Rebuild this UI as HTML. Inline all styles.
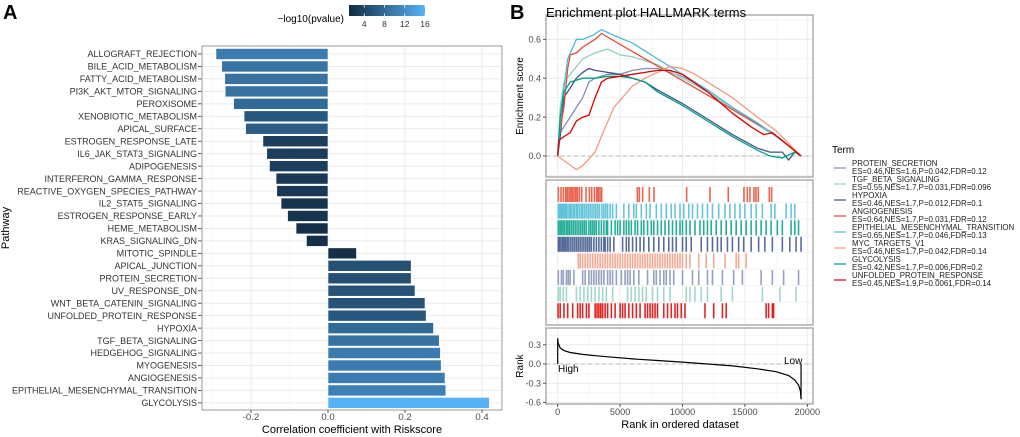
<!DOCTYPE html>
<html><head><meta charset="utf-8"><style>
body{margin:0;background:#fff;}
svg{display:block;font-family:"Liberation Sans",Arial,sans-serif;}
</style></head><body>
<svg id="s" width="1020" height="437" viewBox="0 0 1020 437">
<defs><linearGradient id="cg" x1="0" x2="1" y1="0" y2="0"><stop offset="0" stop-color="#132B43"/><stop offset="1" stop-color="#56B1F7"/></linearGradient></defs>
<text x="3" y="19" font-size="20" font-weight="bold">A</text>
<text x="510" y="19" font-size="20" font-weight="bold">B</text>
<g id="A"></g><g id="B"></g>
</svg>
<script>
const cats=["ALLOGRAFT_REJECTION","BILE_ACID_METABOLISM","FATTY_ACID_METABOLISM","PI3K_AKT_MTOR_SIGNALING","PEROXISOME","XENOBIOTIC_METABOLISM","APICAL_SURFACE","ESTROGEN_RESPONSE_LATE","IL6_JAK_STAT3_SIGNALING","ADIPOGENESIS","INTERFERON_GAMMA_RESPONSE","REACTIVE_OXYGEN_SPECIES_PATHWAY","IL2_STAT5_SIGNALING","ESTROGEN_RESPONSE_EARLY","HEME_METABOLISM","KRAS_SIGNALING_DN","MITOTIC_SPINDLE","APICAL_JUNCTION","PROTEIN_SECRETION","UV_RESPONSE_DN","WNT_BETA_CATENIN_SIGNALING","UNFOLDED_PROTEIN_RESPONSE","HYPOXIA","TGF_BETA_SIGNALING","HEDGEHOG_SIGNALING","MYOGENESIS","ANGIOGENESIS","EPITHELIAL_MESENCHYMAL_TRANSITION","GLYCOLYSIS"];
const corr=[-0.291,-0.276,-0.268,-0.267,-0.245,-0.218,-0.214,-0.169,-0.159,-0.152,-0.135,-0.133,-0.122,-0.105,-0.083,-0.056,0.074,0.216,0.216,0.226,0.252,0.255,0.274,0.289,0.292,0.294,0.304,0.306,0.419];
const logp=[10,9,9,9,8,6,6.5,3,3,3,2.5,2.5,2,2,1.5,1.5,1.5,5,5,5.5,5.5,6,8,9,10,10,10,10.5,16];
const xTicksA=[-0.2,0,0.2,0.4];
const cbTicks=[4,8,12,16];

const terms=["PROTEIN_SECRETION","TGF_BETA_SIGNALING","HYPOXIA","ANGIOGENESIS","EPITHELIAL_MESENCHYMAL_TRANSITION","MYC_TARGETS_V1","GLYCOLYSIS","UNFOLDED_PROTEIN_RESPONSE"];
const stats=["ES=0.46,NES=1.6,P=0.042,FDR=0.12","ES=0.55,NES=1.7,P=0.031,FDR=0.096","ES=0.46,NES=1.7,P=0.012,FDR=0.1","ES=0.64,NES=1.7,P=0.031,FDR=0.12","ES=0.65,NES=1.7,P=0.046,FDR=0.13","ES=0.46,NES=1.7,P=0.042,FDR=0.14","ES=0.42,NES=1.7,P=0.006,FDR=0.2","ES=0.45,NES=1.9,P=0.0061,FDR=0.14"];
const colors=["#8491B4","#91D1C2","#3C5488","#E64B35","#4DBBD5","#F39B7F","#00A087","#DC0000"];
const esProtein=[[0,0],[200,0.12],[500,0.15],[1000,0.2],[1500,0.25],[2000,0.3],[2500,0.38],[3000,0.4],[4000,0.42],[5000,0.42],[6000,0.44],[7000,0.45],[8000,0.45],[10000,0.41],[12000,0.34],[14000,0.25],[16000,0.17],[18000,0.08],[19500,0]];
const esTgf=[[0,0],[200,0.25],[500,0.38],[1000,0.42],[2000,0.5],[3000,0.53],[4000,0.55],[5000,0.52],[6000,0.51],[8000,0.47],[10000,0.4],[12000,0.33],[14000,0.24],[16000,0.16],[18000,0.08],[19500,0]];
const esHypoxia=[[0,0],[200,0.1],[500,0.3],[1000,0.35],[1500,0.4],[2000,0.43],[2500,0.45],[3000,0.44],[4000,0.43],[5000,0.42],[6000,0.4],[7000,0.38],[8000,0.34],[10000,0.27],[12000,0.19],[14000,0.11],[16000,0.04],[17000,0.02],[18000,0.02],[18500,-0.02],[19000,0.02],[19500,0]];
const esAngio=[[0,0],[100,0.1],[500,0.25],[800,0.45],[1000,0.52],[1500,0.53],[2000,0.56],[2500,0.58],[3000,0.6],[3500,0.63],[17200,0.12],[19500,0]];
const esEmt=[[0,0],[300,0.25],[800,0.5],[1500,0.6],[2000,0.6],[2800,0.62],[3500,0.65],[4500,0.62],[6000,0.58],[8000,0.5],[10000,0.42],[12000,0.34],[14000,0.25],[16000,0.17],[18000,0.08],[19500,0]];
const esMyc=[[0,0],[1500,-0.07],[2000,-0.05],[3000,0.02],[3500,0.1],[4500,0.25],[6000,0.36],[7000,0.4],[8000,0.43],[9000,0.46],[10000,0.45],[11000,0.42],[12000,0.38],[14000,0.3],[16000,0.2],[17500,0.13],[19500,0]];
const esGly=[[0,0],[200,0.2],[500,0.33],[1000,0.38],[2000,0.4],[3000,0.4],[4000,0.41],[5000,0.41],[6000,0.4],[7000,0.38],[8000,0.33],[10000,0.26],[12000,0.18],[14000,0.1],[16000,0.03],[17000,0],[18000,-0.01],[19000,0.02],[19500,0]];
const esUpr=[[0,0],[100,0.08],[500,0.1],[1000,0.12],[1500,0.18],[2000,0.2],[2500,0.21],[3000,0.3],[3500,0.38],[4000,0.4],[5000,0.41],[6000,0.42],[7000,0.43],[8000,0.44],[9000,0.44],[10000,0.42],[12000,0.33],[14000,0.22],[15500,0.15],[16500,0.11],[17200,0.12],[19500,0]];
const esCurves=[esProtein,esTgf,esHypoxia,esAngio,esEmt,esMyc,esGly,esUpr];
const hitsAngio=[53,267,454,641,774,908,1041,1175,1308,1442,1575,1735,1922,2269,2536,2723,2937,3124,3257,3391,3524,6381,6541,6808,7342,7716,10333,12202,13670,14925,15192,15406,15726,15886,16073,16954,17141];
const hitsEmt=[50,150,250,350,450,550,650,750,900,1000,1100,1250,1350,1500,1600,1750,1900,2000,2150,2300,2450,2600,2750,2900,3050,3200,3350,3550,3700,3850,4000,4200,4400,4700,5300,5700,6100,6300,6700,7100,7400,7900,8300,8700,9100,9400,9800,10100,10500,10800,11200,11600,12000,12400,12900,13400,13800,14200,14600,15000,15500,15900,16400,17100,17400,18300,18700,19000];
const hitsGly=[50,180,300,420,550,700,820,950,1100,1250,1400,1550,1700,1850,2000,2150,2300,2500,2650,2800,2950,3100,3300,3500,3700,3900,4000,4300,4600,4800,5000,5300,5500,5700,5900,6200,6400,6700,6900,7200,7500,7700,8000,8300,8600,8900,9200,9500,9800,10000,10300,10600,11000,11400,11700,12000,12300,12700,13100,13500,13900,14300,14700,15100,15500,15900,16300,16700,17100,17600,18000,18700,19000,19300];
const hitsHypoxia=[50,150,270,400,520,650,780,900,1050,1200,1350,1500,1650,1800,1950,2100,2250,2400,2550,2700,2900,3100,3300,3500,3700,3800,4000,4200,4500,5200,5500,5700,6000,6300,6600,6900,7300,7700,8100,8500,8900,9200,9500,10000,10300,10700,11500,12000,12400,12800,13100,13600,14000,14500,14900,15500,16100,16600,17200,18000,18600,19100,19500];
const hitsMyc=[1650,1800,2000,2200,2400,2600,2800,3000,3200,3400,3600,3800,4000,4200,4400,4600,4800,5000,5200,5400,5600,5800,6000,6200,6400,6600,6800,7000,7200,7400,7600,7800,8000,8200,8400,8600,8800,9000,9200,9400,9600,9800,10000,10300,10600,11300,11900,12500,13400,14300,14500,15100];
const hitsProtein=[50,300,450,700,850,1000,1300,2000,2200,2500,2700,2900,3100,3300,3500,3700,4000,4200,4400,4700,5100,5400,5600,5800,6100,6500,7200,7700,7900,8200,8500,8700,9000,9300,10000,10800,11300,12000,12400,13200,14100,14800,16300,17200,18100,19300];
const hitsTgf=[50,200,450,700,1500,1800,2100,2400,2700,3000,3300,3600,3900,4400,5600,5900,6200,6500,6800,7100,7600,8000,8500,9000,10300,10600,11000,11500,12000,13100,14000,16400,17800,19100];
const hitsUpr=[30,200,500,800,1200,1600,1800,2000,2300,2500,3000,3150,3300,3450,3600,3800,4000,4300,4600,5000,5200,5400,5700,6000,6300,6600,7000,7200,7400,7600,7800,8000,8500,8800,9100,9400,9600,9900,10200,11800,12500,13200,13500,16700,16900,17200,17300];
const rugRows=[hitsAngio,hitsEmt,hitsGly,hitsHypoxia,hitsMyc,hitsProtein,hitsTgf,hitsUpr];
const rugColors=["#E64B35","#4DBBD5","#00A087","#3C5488","#F39B7F","#8491B4","#91D1C2","#DC0000"];
const rankPts=[[0,0.4],[30,0.33],[200,0.25],[500,0.21],[1000,0.18],[2000,0.15],[3000,0.13],[4500,0.105],[6000,0.08],[8000,0.055],[10000,0.03],[12000,0.0],[14000,-0.03],[16000,-0.075],[17500,-0.12],[18500,-0.18],[19000,-0.25],[19300,-0.33],[19450,-0.42],[19500,-0.55]];
const xTicksB=[0,5000,10000,15000,20000];
const yTicksES=[0,0.2,0.4,0.6];
const yTicksRank=[0.3,0,-0.3,-0.6];

const NS="http://www.w3.org/2000/svg";
function mk(p,tag,a,txt){const e=document.createElementNS(NS,tag);for(const k in a)e.setAttribute(k,a[k]);if(txt!==undefined)e.textContent=txt;p.appendChild(e);return e;}
function lerp(a,b,t){return Math.round(a+(b-a)*t);}
function pcol(v){const t=Math.max(0,Math.min(1,(v-1)/15));return `rgb(${lerp(19,86,t)},${lerp(43,177,t)},${lerp(67,247,t)})`;}

// ---------- Panel A ----------
const A=document.getElementById('A');
const ax=v=>328+v*385;
const ay=i=>54+i*12.46;
const L=202,R=502,T=46,Bt=410;
mk(A,'rect',{x:L,y:T,width:R-L,height:Bt-T,fill:'#fff'});
for(let v=-0.3;v<=0.45;v+=0.1){mk(A,'line',{x1:ax(v),x2:ax(v),y1:T,y2:Bt,stroke:'#f2f2f2','stroke-width':0.6});}
xTicksA.forEach(v=>{mk(A,'line',{x1:ax(v),x2:ax(v),y1:T,y2:Bt,stroke:'#ebebeb','stroke-width':1});});
cats.forEach((c,i)=>{mk(A,'line',{x1:L,x2:R,y1:ay(i),y2:ay(i),stroke:'#ebebeb','stroke-width':1});});
cats.forEach((c,i)=>{
  const v=corr[i];
  const r=mk(A,'rect',{x:Math.min(ax(0),ax(v)),y:ay(i)-5.5,width:Math.abs(ax(v)-ax(0)),height:11,fill:pcol(logp[i]),stroke:'#fff','stroke-width':0.6});
  
  
  const t=mk(A,'text',{x:197,y:ay(i)+3.2,'font-size':9,fill:'#333','text-anchor':'end'},c);
  
  
  mk(A,'line',{x1:198,x2:202,y1:ay(i),y2:ay(i),stroke:'#333','stroke-width':0.8});
});
mk(A,'rect',{x:L,y:T,width:R-L,height:Bt-T,fill:'none',stroke:'#aaa','stroke-width':1.2});
xTicksA.forEach(v=>{
  mk(A,'line',{x1:ax(v),x2:ax(v),y1:Bt,y2:Bt+3,stroke:'#333','stroke-width':0.8});
  const t=mk(A,'text',{x:ax(v),y:420,'font-size':9.6,fill:'#4d4d4d','text-anchor':'middle'},v.toFixed(1));
  
  
});
let t1=mk(A,'text',{x:352,y:433,'font-size':11,fill:'#000','text-anchor':'middle'},'Correlation coefficient with Riskscore');

let t2=mk(A,'text',{x:9,y:228,'font-size':11,fill:'#000','text-anchor':'middle',transform:'rotate(-90 9 228)'},'Pathway');

const cbx=v=>349+(v-1)/15*76;
let cb=mk(A,'rect',{x:349,y:5,width:76,height:11,fill:'url(#cg)'});

cbTicks.forEach(v=>{
  mk(A,'line',{x1:cbx(v),x2:cbx(v),y1:5,y2:7.5,stroke:'#fff','stroke-width':0.8});
  mk(A,'line',{x1:cbx(v),x2:cbx(v),y1:13.5,y2:16,stroke:'#fff','stroke-width':0.8});
  const t=mk(A,'text',{x:cbx(v),y:27,'font-size':8.5,fill:'#333','text-anchor':'middle'},String(v));
  
});
let t3=mk(A,'text',{x:344,y:22,'font-size':10,fill:'#000','text-anchor':'end'},'\u2212log10(pvalue)');


// ---------- Panel B ----------
const B=document.getElementById('B');
const bx=r=>557.7+r*0.01248;
const PL=546,PR=813;
const esy=v=>156-v*194.5;
const rky=v=>364-v*64;
function panel(y1,y2,name){
  const r=mk(B,'rect',{x:PL,y:y1,width:PR-PL,height:y2-y1,fill:'#fff'});
  
  for(let v=0;v<=20000;v+=2500){mk(B,'line',{x1:bx(v),x2:bx(v),y1:y1,y2:y2,stroke:v%5000?'#f3f3f3':'#ebebeb','stroke-width':v%5000?0.6:1});}
}
function frame(y1,y2){mk(B,'rect',{x:PL,y:y1,width:PR-PL,height:y2-y1,fill:'none',stroke:'#999','stroke-width':1.2});}
panel(15,177,'enrichment-panel');
for(let v=-0.1;v<=0.7;v+=0.1){mk(B,'line',{x1:PL,x2:PR,y1:esy(v),y2:esy(v),stroke:'#f0f0f0','stroke-width':0.8});}
yTicksES.forEach(v=>mk(B,'line',{x1:PL,x2:PR,y1:esy(v),y2:esy(v),stroke:'#ebebeb','stroke-width':1}));
mk(B,'line',{x1:PL,x2:PR,y1:esy(0),y2:esy(0),stroke:'#bbb','stroke-width':1,'stroke-dasharray':'4,3'});
esCurves.forEach((c,k)=>{
  const p=mk(B,'polyline',{points:c.map(d=>bx(d[0]).toFixed(1)+','+esy(d[1]).toFixed(1)).join(' '),fill:'none',stroke:colors[k],'stroke-width':1.3});
  
  
});
frame(15,177);
yTicksES.forEach(v=>{
  mk(B,'line',{x1:PL-3,x2:PL,y1:esy(v),y2:esy(v),stroke:'#333','stroke-width':0.8});
  const t=mk(B,'text',{x:PL-5,y:esy(v)+3.2,'font-size':9,fill:'#4d4d4d','text-anchor':'end'},v.toFixed(1));
  
});
let t4=mk(B,'text',{x:523,y:96,'font-size':10,fill:'#000','text-anchor':'middle',transform:'rotate(-90 523 96)'},'Enrichment score');

let t5=mk(B,'text',{x:546,y:17,'font-size':13,fill:'#000'},'Enrichment plot HALLMARK terms');

panel(180,325,'rug-panel');
for(let i=0;i<=8;i++){mk(B,'line',{x1:PL,x2:PR,y1:187+i*16.6-1,y2:187+i*16.6-1,stroke:'#f0f0f0','stroke-width':0.8});}
rugRows.forEach((row,k)=>{
  const g=mk(B,'g',{});
  
  
  row.forEach(r=>{mk(g,'line',{x1:bx(r),x2:bx(r),y1:187+k*16.6,y2:187+k*16.6+15,stroke:rugColors[k],'stroke-width':1.6,opacity:0.85});});
});
frame(180,325);
panel(328,404,'rank-panel');
for(let v=-0.45;v<=0.5;v+=0.3){mk(B,'line',{x1:PL,x2:PR,y1:rky(v),y2:rky(v),stroke:'#f0f0f0','stroke-width':0.8});}
yTicksRank.forEach(v=>mk(B,'line',{x1:PL,x2:PR,y1:rky(v),y2:rky(v),stroke:'#ebebeb','stroke-width':1}));
mk(B,'line',{x1:PL,x2:PR,y1:rky(0),y2:rky(0),stroke:'#bbb','stroke-width':1,'stroke-dasharray':'4,3'});
let rl=mk(B,'polyline',{points:rankPts.map(d=>bx(d[0]).toFixed(1)+','+rky(d[1]).toFixed(1)).join(' '),fill:'none',stroke:'#000','stroke-width':1.2});

mk(B,'line',{x1:bx(rankPts[0][0]),x2:bx(rankPts[0][0]),y1:rky(0),y2:rky(rankPts[0][1]),stroke:'#000','stroke-width':1.2});
mk(B,'line',{x1:bx(rankPts[rankPts.length-1][0]),x2:bx(rankPts[rankPts.length-1][0]),y1:rky(0),y2:rky(rankPts[rankPts.length-1][1]),stroke:'#000','stroke-width':1.2});
frame(328,404);
let th=mk(B,'text',{x:558,y:372,'font-size':10,fill:'#000'},'High');
let tl=mk(B,'text',{x:784,y:364,'font-size':10,fill:'#000'},'Low');
yTicksRank.forEach(v=>{
  mk(B,'line',{x1:PL-3,x2:PL,y1:rky(v),y2:rky(v),stroke:'#333','stroke-width':0.8});
  const t=mk(B,'text',{x:PL-5,y:rky(v)+3.2,'font-size':9,fill:'#4d4d4d','text-anchor':'end'},v.toFixed(1));
  
});
let t6=mk(B,'text',{x:523,y:366,'font-size':10,fill:'#000','text-anchor':'middle',transform:'rotate(-90 523 366)'},'Rank');

xTicksB.forEach(v=>{
  mk(B,'line',{x1:bx(v),x2:bx(v),y1:404,y2:407,stroke:'#333','stroke-width':0.8});
  const t=mk(B,'text',{x:bx(v),y:415,'font-size':9.2,fill:'#4d4d4d','text-anchor':'middle'},String(v));
  
});
let t7=mk(B,'text',{x:680,y:428,'font-size':11,fill:'#000','text-anchor':'middle'},'Rank in ordered dataset');

let lt=mk(B,'text',{x:832,y:153,'font-size':10,fill:'#000'},'Term');

terms.forEach((n,k)=>{
  const g=mk(B,'g',{});
  
  
  const y=164+k*16;
  mk(g,'line',{x1:834,x2:846,y1:y+4,y2:y+4,stroke:colors[k],'stroke-width':1.2});
  mk(g,'text',{x:852,y:y+2,'font-size':7.9,fill:'#222'},n);
  mk(g,'text',{x:852,y:y+10,'font-size':7.9,fill:'#222'},stats[k]);
});
</script>
</body></html>
